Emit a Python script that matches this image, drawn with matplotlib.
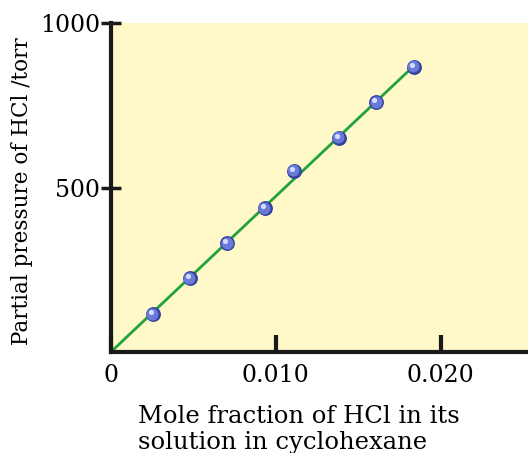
import numpy as np
import matplotlib
matplotlib.use("Agg")
import matplotlib.pyplot as plt

# mole fraction of HCl and its partial pressure (torr)
x_frac = [0.00256, 0.00479, 0.00707, 0.00933, 0.01111, 0.01384, 0.0161, 0.01838]
p_hcl = [115, 224, 330, 437, 550, 651, 759, 867]
x_ticks = [0, 0.010, 0.020]
x_ticklabels = ["0", "0.010", "0.020"]
y_ticks = [500, 1000]
y_ticklabels = ["500", "1000"]

plt.rcParams["font.family"] = "DejaVu Serif"

fig = plt.figure(figsize=(5.28, 4.53), dpi=100)
ax = fig.add_axes([0.21, 0.223, 0.79, 0.726])
ax.set_facecolor("#fff8c8")

# fitted straight line through the origin
k = np.sum(np.array(x_frac) * np.array(p_hcl)) / np.sum(np.array(x_frac) ** 2)
xl = np.array([0, x_frac[-1]])
ax.plot(xl, k * xl, color="#22a23a", lw=2, zorder=2, clip_on=False)

# shaded balls
ax.scatter(x_frac, p_hcl, s=115, color="#34429e", zorder=3, clip_on=False,
           linewidths=0)
ax.scatter(np.array(x_frac) - 0.00004, np.array(p_hcl) + 2, s=75,
           color="#6a7ad8", zorder=4, clip_on=False, linewidths=0)
ax.scatter(np.array(x_frac) - 0.00012, np.array(p_hcl) + 7, s=14,
           color="#d4dcff", zorder=5, clip_on=False, linewidths=0)

ax.set_xlim(0, 0.0253)
ax.set_ylim(0, 1000)
ax.spines["top"].set_visible(False)
ax.spines["right"].set_visible(False)
for s in ["left", "bottom"]:
    ax.spines[s].set_linewidth(3)
    ax.spines[s].set_color("#1a1a1a")

ax.set_xticks(x_ticks)
ax.set_xticklabels(x_ticklabels)
ax.set_yticks(y_ticks)
ax.set_yticklabels(y_ticklabels)
ax.tick_params(axis="x", direction="in", length=12, width=3, color="#1a1a1a",
               labelsize=17, pad=9)
ax.tick_params(axis="y", direction="inout", length=14, width=2.5, color="#1a1a1a",
               labelsize=17, pad=1)

fig.text(0.042, 0.578, "Partial pressure of HCl /torr", rotation=90,
         ha="center", va="center", fontsize=15.5)
fig.text(0.261, 0.052, "Mole fraction of HCl in its\nsolution in cyclohexane",
         ha="left", va="center", fontsize=17.5, linespacing=1.2)

fig.savefig("out.png", dpi=100)
